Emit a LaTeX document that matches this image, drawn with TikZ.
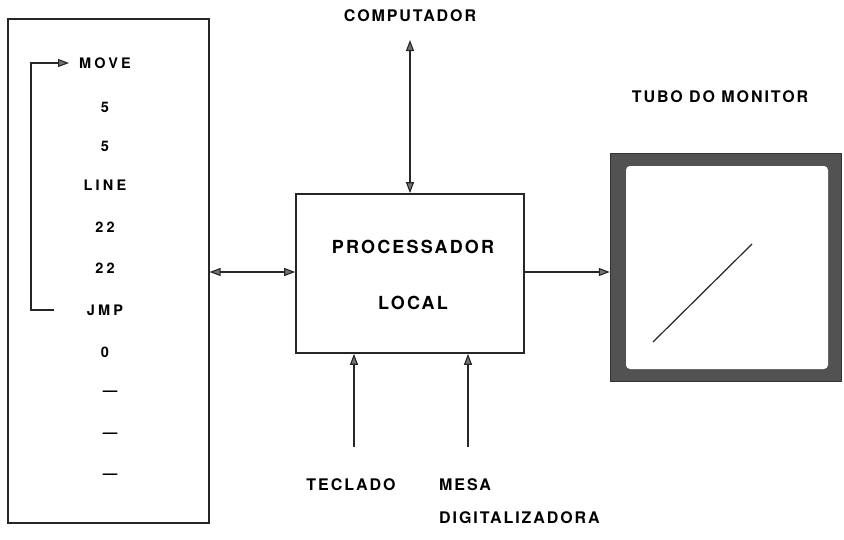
\documentclass[tikz,border=0pt]{standalone}
\usepackage{fontspec}
\usetikzlibrary{arrows.meta}
\newfontfamily\labwide[LetterSpace=22]{TeX Gyre Heros}
\newfontfamily\labnorm[LetterSpace=12]{TeX Gyre Heros}
\begin{document}
\begin{tikzpicture}[x=1pt,y=-1pt,
  lbl/.style={inner sep=1pt, font=\labnorm\bfseries\fontsize{16}{16}\selectfont},
  item/.style={inner sep=1pt, font=\labwide\bfseries\fontsize{14.5}{15}\selectfont},
  tip/.style={-{Triangle[length=11pt,width=8pt,fill=black!55]}},
  bitip/.style={{Triangle[length=11pt,width=8pt,fill=black!55]}-{Triangle[length=11pt,width=8pt,fill=black!55]}},
  wire/.style={line width=1.1pt, draw=black!85},
  boxline/.style={draw=black!85, line width=1.6pt}]
\useasboundingbox (0,0) rectangle (844,539);
% memory list box
\node[boxline, minimum width=201pt, minimum height=504pt, anchor=north west, inner sep=0pt] (mem) at (7,18) {};
\node[item] (move) at (105,63) {MOVE};
\node[item] (n5a) at (105,107) {5};
\node[item] (n5b) at (105,146) {5};
\node[item] (line) at (105,185) {LINE};
\node[item] (n22a) at (105,227) {22};
\node[item] (n22b) at (105,268) {22};
\node[item] (jmp) at (105,310) {JMP};
\node[item] (zero) at (105,352) {0};
\node[item] (d1) at (110,393) {—};
\node[item] (d2) at (110,435) {—};
\node[item] (d3) at (110,476) {—};
\coordinate (ls) at (54,310);
\coordinate (lt) at (69,63);
\draw[wire, tip] (ls) -- (31,310) |- (lt);
% processor
\node[boxline, minimum width=228pt, minimum height=159pt, inner sep=0pt] (proc) at (410,273.5) {};
\node[lbl, font=\labnorm\bfseries\fontsize{18}{18}\selectfont] (pt1) at (413,247) {PROCESSADOR};
\node[lbl, font=\labnorm\bfseries\fontsize{18}{18}\selectfont] (pt2) at (413,303) {LOCAL};
% monitor
\node[fill=black!68, draw=black!80, minimum width=231pt, minimum height=228pt, inner sep=0pt] (mon) at (725.5,267) {};
\node[fill=white, rounded corners=4pt, minimum width=202pt, minimum height=203pt, inner sep=0pt] (scr) at (727,267.5) {};
\coordinate (ra) at (653,342);
\coordinate (rb) at (752,244);
\draw[line width=1.2pt, black!85] (ra) -- (rb);
\node[lbl] (tubo) at (720,97) {TUBO DO MONITOR};
% computer
\node[lbl] (comp) at (410,16) {COMPUTADOR};
\coordinate (ce) at (410,40);
\draw[wire, bitip] (ce) -- (proc.north);
% memory <-> processor
\draw[wire, bitip] (mem.east |- 0,272) -- (proc.west |- 0,272);
% processor -> monitor
\draw[wire, tip] (proc.east |- 0,272) -- (mon.west |- 0,272);
% inputs
\coordinate (kb) at (354,447);
\coordinate (ms) at (468,447);
\draw[wire, tip] (kb) -- (kb |- proc.south);
\draw[wire, tip] (ms) -- (ms |- proc.south);
\node[lbl] (tec) at (351,485) {TECLADO};
\node[lbl, anchor=west] (mesa) at (438,485) {MESA};
\node[lbl, anchor=west] (digit) at (438,518) {DIGITALIZADORA};
\end{tikzpicture}
\end{document}
